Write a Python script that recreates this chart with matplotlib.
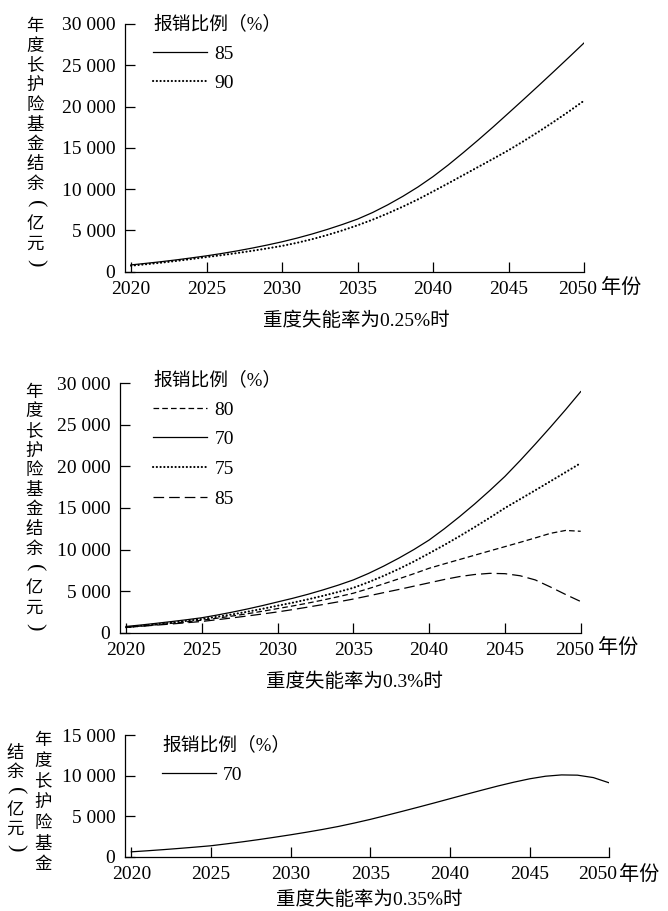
import numpy as np
import matplotlib
matplotlib.use('Agg')
import matplotlib.pyplot as plt
from matplotlib.ticker import FuncFormatter
from matplotlib.transforms import ScaledTranslation

plt.rcParams['font.family'] = ['Liberation Serif', 'Noto Sans CJK SC']
plt.rcParams['axes.unicode_minus'] = False

#=======================================================================================
# Data (yearly fund balance, thousand 亿元)
#=======================================================================================
years = list(range(2020, 2051))

# 重度失能率 0.25%
p1_85 = [0.80, 0.99, 1.19, 1.41, 1.65, 1.90, 2.18, 2.49, 2.83, 3.20,
         3.60, 4.05, 4.55, 5.10, 5.70, 6.35, 7.15, 8.08, 9.11, 10.24,
         11.50, 12.90, 14.40, 15.95, 17.55, 19.20, 20.86, 22.54, 24.24, 25.96, 27.70]
p1_90 = [0.70, 0.88, 1.07, 1.28, 1.51, 1.75, 1.98, 2.23, 2.50, 2.79,
         3.10, 3.48, 3.92, 4.42, 4.98, 5.60, 6.28, 7.04, 7.86, 8.74,
         9.70, 10.68, 11.68, 12.68, 13.68, 14.70, 15.80, 16.95, 18.15, 19.40, 20.70]

# 重度失能率 0.3%
p2_80 = [0.65, 0.80, 0.96, 1.13, 1.31, 1.50, 1.74, 2.00, 2.28, 2.58,
         2.90, 3.22, 3.56, 3.93, 4.33, 4.75, 5.30, 5.88, 6.48, 7.10,
         7.75, 8.28, 8.80, 9.32, 9.84, 10.35, 10.87, 11.40, 11.95, 12.30, 12.20]
p2_70 = [0.75, 0.93, 1.13, 1.34, 1.56, 1.80, 2.12, 2.47, 2.85, 3.26,
         3.70, 4.14, 4.62, 5.15, 5.72, 6.35, 7.13, 8.01, 8.97, 10.01,
         11.15, 12.50, 13.95, 15.48, 17.10, 18.80, 20.70, 22.68, 24.72, 26.82, 29.00]
p2_75 = [0.65, 0.82, 1.01, 1.21, 1.42, 1.65, 1.91, 2.20, 2.52, 2.87,
         3.25, 3.61, 4.01, 4.44, 4.90, 5.40, 6.08, 6.84, 7.67, 8.57,
         9.55, 10.55, 11.60, 12.70, 13.83, 15.00, 16.06, 17.13, 18.21, 19.30, 20.40]
p2_85 = [0.65, 0.78, 0.91, 1.05, 1.20, 1.35, 1.56, 1.78, 2.01, 2.25,
         2.50, 2.78, 3.08, 3.39, 3.71, 4.05, 4.43, 4.82, 5.20, 5.60,
         6.00, 6.40, 6.75, 7.00, 7.14, 7.10, 6.85, 6.35, 5.50, 4.60, 3.75]

# 重度失能率 0.35%
p3_70 = [0.60, 0.73, 0.87, 1.02, 1.18, 1.35, 1.59, 1.84, 2.11, 2.40,
         2.70, 3.02, 3.36, 3.73, 4.15, 4.60, 5.09, 5.59, 6.10, 6.62,
         7.15, 7.68, 8.20, 8.71, 9.18, 9.60, 9.92, 10.08, 10.05, 9.75, 9.10]

xticks = [2020, 2025, 2030, 2035, 2040, 2045, 2050]
ylabel = "年度长护险基金结余（亿元）"
legend_title = "报销比例（%）"

#=======================================================================================
# Figure
#=======================================================================================
W, H = 668, 911
fig = plt.figure(figsize=(W/100, H/100), dpi=100)

def px_axes(l, r, t, b):
	return fig.add_axes([l/W, 1-b/H, (r-l)/W, (b-t)/H])

def thousands(v, pos):
	return f"{int(v):,}".replace(",", " ")

styles = {
	'solid': dict(linestyle='-', linewidth=0.9),
	'dot': dict(linestyle=(0, (0.1, 1.7)), linewidth=1.5, dash_capstyle='round'),
	'short': dict(linestyle=(0, (4.5, 2.5)), linewidth=0.9),
	'long': dict(linestyle=(0, (8.5, 4.0)), linewidth=0.9),
}

def setup(ax, ymax, ystep, last_shift):
	ax.set_xlim(2019.6, 2050)
	ax.set_ylim(0, ymax)
	ax.set_xticks(xticks)
	ax.set_yticks(np.arange(0, ymax+1, ystep))
	ax.yaxis.set_major_formatter(FuncFormatter(thousands))
	for s in ['top', 'right']:
		ax.spines[s].set_visible(False)
	for s in ['left', 'bottom']:
		ax.spines[s].set_linewidth(0.9)
	ax.tick_params(direction='in', length=7, width=0.9, labelsize=14, pad=7)
	# last year label sits a little left of its tick, as in the original
	lab = ax.get_xticklabels()[-1]
	lab.set_transform(lab.get_transform() + ScaledTranslation(last_shift/100, 0, fig.dpi_scale_trans))

def vlabel(x, y0, step, text):
	# stacked vertical text, brackets turned on their side
	for i, ch in enumerate(text):
		yy = 1-(y0+i*step)/H
		if ch == "（":
			fig.text(x/W, yy, "(", fontsize=16, ha='center', va='center', rotation=-90,
				family='Liberation Serif')
		elif ch == "）":
			fig.text(x/W, yy, ")", fontsize=16, ha='center', va='center', rotation=-90,
				family='Liberation Serif')
		else:
			fig.text(x/W, yy, ch, fontsize=12.5, ha='center', va='center',
				family='Noto Sans CJK SC')

def add_legend(ax, lines, labels, x, y):
	leg = ax.legend(lines, labels, title=legend_title, loc='upper left',
		bbox_to_anchor=(x/W, 1-y/H), bbox_transform=fig.transFigure,
		frameon=False, fontsize=14, title_fontsize=13.5, handlelength=2.8,
		handletextpad=0.35, labelspacing=0.62, borderpad=0, borderaxespad=0,
		alignment='left')
	return leg

yr = np.array(years)

# Panel 1
ax1 = px_axes(125, 584, 24, 271.5)
setup(ax1, 30000, 5000, -6)
l85, = ax1.plot(yr, np.array(p1_85)*1000, color='k', **styles['solid'])
l90, = ax1.plot(yr, np.array(p1_90)*1000, color='k', **styles['dot'])
add_legend(ax1, [l85, l90], ['85', '90'], 153, 15)
vlabel(35, 26, 19.75, ylabel)
fig.text(601/W, 1-288/H, "年份", fontsize=14.5, va='center')
fig.text(356/W, 1-321/H, "重度失能率为0.25%时", fontsize=14, ha='center', va='center')

# Panel 2
ax2 = px_axes(120, 580.7, 383.3, 632.7)
setup(ax2, 30000, 5000, -6)
a80, = ax2.plot(yr, np.array(p2_80)*1000, color='k', **styles['short'])
a70, = ax2.plot(yr, np.array(p2_70)*1000, color='k', **styles['solid'])
a75, = ax2.plot(yr, np.array(p2_75)*1000, color='k', **styles['dot'])
a85, = ax2.plot(yr, np.array(p2_85)*1000, color='k', **styles['long'])
add_legend(ax2, [a80, a70, a75, a85], ['80', '70', '75', '85'], 153, 371)
vlabel(34, 391.7, 19.6, ylabel)
fig.text(598/W, 1-648/H, "年份", fontsize=14.5, va='center')
fig.text(354/W, 1-682/H, "重度失能率为0.3%时", fontsize=14, ha='center', va='center')

# Panel 3
ax3 = px_axes(125, 609.3, 735, 856.7)
setup(ax3, 15000, 5000, -12)
b70, = ax3.plot(yr, np.array(p3_70)*1000, color='k', **styles['solid'])
add_legend(ax3, [b70], ['70'], 162, 736)
vlabel(43, 740, 20.7, ylabel[:7])
vlabel(15, 753, 19.0, ylabel[7:])
fig.text(619/W, 1-875/H, "年份", fontsize=14.5, va='center')
fig.text(369/W, 1-900/H, "重度失能率为0.35%时", fontsize=14, ha='center', va='center')

plt.savefig("out.png", dpi=100)
plt.close()
